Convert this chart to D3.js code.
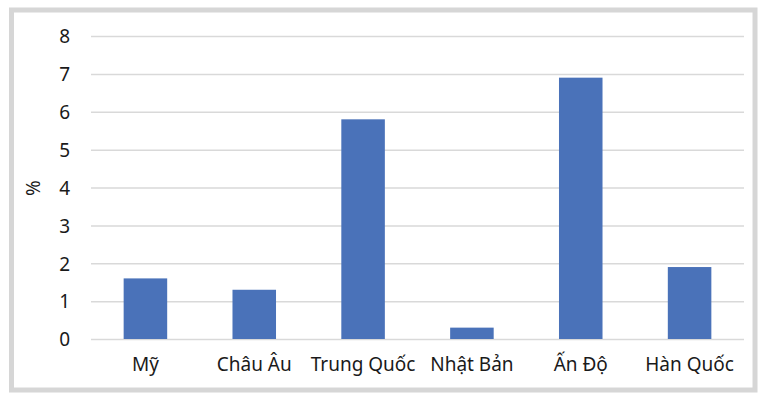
<!DOCTYPE html>
<html>
<head>
<meta charset="utf-8">
<script src="https://cdn.jsdelivr.net/npm/d3@7"></script>
<style>
  html, body { margin: 0; padding: 0; background: #fff; }
  svg { display: block; }
  svg text { font-family: "Noto Sans", "Open Sans", sans-serif; }
</style>
</head>
<body>
<svg id="chart" width="762" height="394"></svg>
<script>
// Tăng trưởng theo khu vực (%)
const categories = ["Mỹ", "Châu Âu", "Trung Quốc", "Nhật Bản", "Ấn Độ", "Hàn Quốc"];
const values = [1.6, 1.3, 5.8, 0.3, 6.9, 1.9];
const yTicks = [0, 1, 2, 3, 4, 5, 6, 7, 8];
const yTitle = "%";

const FONT = '"Noto Sans", "Open Sans", sans-serif';
const svg = d3.select("#chart");
const plot = { left: 91, right: 744, top: 36, bottom: 339 };

// outer frame
svg.append("rect")
  .attr("x", 11.5).attr("y", 10)
  .attr("width", 743.5).attr("height", 380)
  .attr("fill", "#fff")
  .attr("stroke", "#d6d6d6")
  .attr("stroke-width", 5);

const x = d3.scaleBand()
  .domain(categories)
  .range([plot.left, plot.right])
  .paddingInner(0.6)
  .paddingOuter(0.3);

const y = d3.scaleLinear()
  .domain([0, 8])
  .range([plot.bottom, plot.top]);

// gridlines + y labels
const yAxis = d3.axisLeft(y)
  .tickValues(yTicks)
  .tickSize(-(plot.right - plot.left))
  .tickPadding(21)
  .tickFormat(d3.format("d"));

const gy = svg.append("g")
  .attr("transform", `translate(${plot.left},0)`)
  .call(yAxis)
  .attr("font-family", FONT)
  .attr("font-size", 19);
gy.select(".domain").remove();
gy.selectAll(".tick line")
  .attr("stroke", "#d9d9d9")
  .attr("stroke-width", 1.5);
gy.selectAll(".tick text")
  .attr("fill", "#1a1a1a")
  .attr("dy", "0.36em");

// bars
svg.append("g")
  .selectAll("rect")
  .data(values)
  .join("rect")
  .attr("x", (d, i) => x(categories[i]))
  .attr("width", x.bandwidth())
  .attr("y", d => y(d))
  .attr("height", d => y(0) - y(d))
  .attr("fill", "#4a72b9");

// category labels
const xAxis = d3.axisBottom(x).tickSize(0).tickPadding(19);
const gx = svg.append("g")
  .attr("transform", `translate(0,${plot.bottom})`)
  .call(xAxis)
  .attr("font-family", FONT)
  .attr("font-size", 19);
gx.select(".domain").remove();
gx.selectAll(".tick text")
  .attr("fill", "#1a1a1a");

// axis title
svg.append("text")
  .attr("transform", `translate(40,188) rotate(-90)`)
  .attr("text-anchor", "middle")
  .attr("fill", "#1a1a1a")
  .attr("font-family", FONT)
  .attr("font-size", 19)
  .text(yTitle);
</script>
</body>
</html>
